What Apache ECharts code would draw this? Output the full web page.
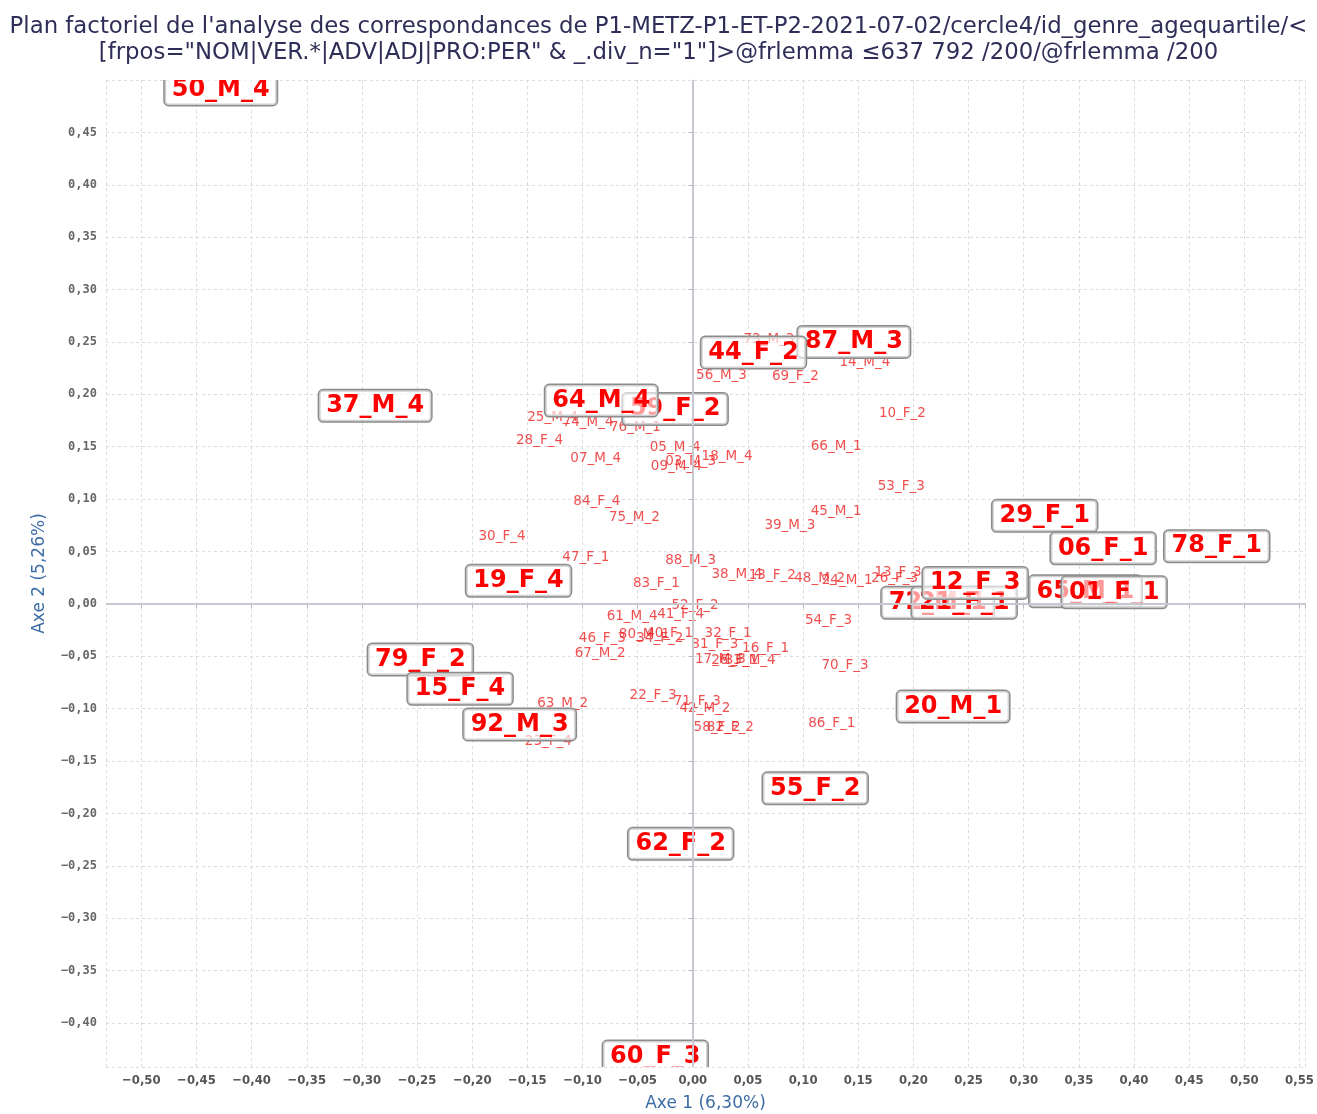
<!DOCTYPE html>
<html>
<head>
<meta charset="UTF-8">
<title>Plan factoriel</title>
<script src="https://cdn.jsdelivr.net/npm/echarts@6/dist/echarts.min.js"></script>
<style>
  html, body { margin: 0; padding: 0; background: #fff; }
  #main { width: 1317px; height: 1114px; }
</style>
</head>
<body>
<div id="main"></div>
<script type="text/javascript">
// titre (deux lignes)
var titre = [
  "Plan factoriel de l'analyse des correspondances de P1-METZ-P1-ET-P2-2021-07-02/cercle4/id_genre_agequartile/<",
  '[frpos="NOM|VER.*|ADV|ADJ|PRO:PER" & _.div_n="1"]>@frlemma \u2264637 792 /200/@frlemma /200'
];
var nomAxe1 = 'Axe 1 (6,30%)';
var nomAxe2 = 'Axe 2 (5,26%)';

// grandes étiquettes (encadrées) - l'ordre fixe qui passe devant
var grandsNoms = ['50_M_4','37_M_4','59_F_2','64_M_4','87_M_3','44_F_2','29_F_1','06_F_1','78_F_1',
  '72_M_1','21_F_1','12_F_3','65_M_1','01_F_1','19_F_4','79_F_2','15_F_4','92_M_3','20_M_1','55_F_2','62_F_2','60_F_3'];
var grandsX = [-0.428,-0.288,-0.016,-0.083,0.146,0.055,0.319,0.372,0.475,
  0.222,0.246,0.256,0.356,0.382,-0.158,-0.247,-0.211,-0.157,0.236,0.111,-0.011,-0.034];
var grandsY = [0.491,0.189,0.186,0.194,0.250,0.240,0.084,0.053,0.055,
  0.001,0.001,0.020,0.012,0.011,0.022,-0.053,-0.081,-0.115,-0.098,-0.176,-0.229,-0.432];

// petites étiquettes
var petitsNoms = ['73_M_3','14_M_4','56_M_3','69_F_2','10_F_2','25_M_4','74_M_4','76_M_1','28_F_4','07_M_4',
  '05_M_4','09_M_4','03_M_3','18_M_4','66_M_1','53_F_3','84_F_4','75_M_2','45_M_1','39_M_3',
  '30_F_4','47_F_1','88_M_3','83_F_1','38_M_4','13_F_2','48_M_2','24_M_1','26_F_3','13_F_3',
  '52_F_2','61_M_4','41_F_4','54_F_3','80_M_1','40_F_1','34_F_2','46_F_3','67_M_2','32_F_1',
  '81_F_3','16_F_1','17_M_3','26_F_1','33_M_4','70_F_3','86_F_1','63_M_2','22_F_3','71_F_3',
  '42_M_2','58_F_2','82_F_2','23_F_4'];
var petitsX = [0.069,0.156,0.026,0.093,0.190,-0.127,-0.095,-0.052,-0.139,-0.088,
  -0.016,-0.015,-0.002,0.031,0.130,0.189,-0.087,-0.053,0.130,0.088,
  -0.173,-0.097,-0.002,-0.033,0.040,0.072,0.115,0.140,0.183,0.186,
  0.002,-0.055,-0.011,0.123,-0.044,-0.021,-0.030,-0.082,-0.084,0.032,
  0.020,0.066,0.025,0.038,0.052,0.138,0.126,-0.118,-0.036,0.004,
  0.011,0.022,0.034,-0.131];
var petitsY = [0.252,0.230,0.218,0.217,0.182,0.178,0.173,0.168,0.156,0.139,
  0.149,0.131,0.136,0.141,0.150,0.112,0.098,0.082,0.088,0.075,
  0.064,0.044,0.041,0.019,0.028,0.027,0.024,0.022,0.024,0.030,
  -0.002,-0.012,-0.010,-0.016,-0.029,-0.028,-0.033,-0.033,-0.047,-0.028,
  -0.039,-0.043,-0.053,-0.054,-0.054,-0.059,-0.114,-0.095,-0.087,-0.093,
  -0.100,-0.118,-0.118,-0.131];

var xMin = -0.532, xMax = 0.555;
var yMin = -0.442, yMax = 0.50;

function zip(xs, ys, ns) {
  var out = [];
  for (var i = 0; i < ns.length; i++) out.push([xs[i], ys[i], ns[i]]);
  return out;
}

function fmt(v) {
  var r = Math.round(v * 100);
  if (Math.abs(v * 20 - Math.round(v * 20)) > 1e-6) return '';
  var s = Math.abs(r / 100).toFixed(2).replace('.', ',');
  return (r < 0 ? '\u2212' : '') + s;
}

// étiquette encadrée, coupée par la zone du graphe (clip)
function grandeEtiquette(params, api) {
  var pt = api.coord([api.value(0), api.value(1)]);
  return {
    type: 'text',
    x: pt[0], y: pt[1],
    style: {
      text: grandsNoms[params.dataIndex],
      align: 'center', verticalAlign: 'middle',
      font: 'bold 24px "DejaVu Sans"',
      fill: '#ff0000',
      backgroundColor: 'rgba(255,255,255,0.6)',
      borderColor: '#8c8c8c', borderWidth: 1.5, borderRadius: 4,
      padding: [5, 7, 2, 7]
    }
  };
}

var myChart = echarts.init(document.getElementById('main'));
var option = {
  backgroundColor: '#ffffff',
  animation: false,
  title: {
    text: titre.join('\n'),
    left: 'center',
    top: 9,
    textStyle: {
      fontFamily: 'DejaVu Sans',
      fontWeight: 'normal',
      fontSize: 22.8,
      lineHeight: 26,
      color: '#2e2e58'
    }
  },
  grid: { left: 106, right: 12, top: 80, bottom: 47, outerBoundsMode: 'none', containLabel: false },
  xAxis: {
    type: 'value',
    min: xMin, max: xMax,
    splitNumber: 20,
    name: nomAxe1,
    nameLocation: 'middle',
    nameGap: 28,
    nameTextStyle: { fontFamily: 'DejaVu Sans', fontSize: 17, color: '#3d6da6' },
    axisLine: { show: true, lineStyle: { color: '#c5cdd8' } },
    axisTick: { show: true, length: 4, lineStyle: { color: '#b0b8c4' } },
    axisLabel: {
      formatter: fmt, showMinLabel: false, showMaxLabel: true,
      fontFamily: 'DejaVu Sans Condensed', fontWeight: 'bold', fontSize: 13, color: '#555', margin: 7
    },
    splitLine: { show: true, lineStyle: { color: '#dcdcdc', type: [3, 3], width: 1 } }
  },
  yAxis: {
    type: 'value',
    min: yMin, max: yMax,
    splitNumber: 19,
    name: nomAxe2,
    nameLocation: 'middle',
    nameGap: 58,
    nameRotate: 90,
    nameTextStyle: { fontFamily: 'DejaVu Sans', fontSize: 17, color: '#3d6da6' },
    axisLine: { show: true, lineStyle: { color: '#c5cdd8' } },
    axisTick: { show: true, length: 4, lineStyle: { color: '#b0b8c4' } },
    axisLabel: {
      formatter: function (v) { return v > 0.47 ? '' : fmt(v); },
      showMinLabel: false, showMaxLabel: false,
      fontFamily: 'DejaVu Sans Mono', fontWeight: 'bold', fontSize: 12, color: '#666', margin: 9
    },
    splitLine: { show: true, lineStyle: { color: '#dcdcdc', type: [3, 3], width: 1 } }
  },
  series: [
    {
      name: 'petits',
      type: 'scatter',
      symbolSize: 1,
      itemStyle: { color: 'rgba(0,0,0,0)' },
      data: zip(petitsX, petitsY, petitsNoms),
      z: 3,
      label: {
        show: true, position: 'inside',
        formatter: function (p) { return p.value[2]; },
        fontFamily: 'DejaVu Sans', fontSize: 13.5, color: '#ee2222'
      },
      markLine: {
        silent: true, symbol: 'none', label: { show: false },
        lineStyle: { color: '#c6c8d0', type: 'solid', width: 2 },
        data: [{ xAxis: 0 }, { yAxis: 0 }]
      }
    },
    {
      name: 'grands',
      type: 'custom',
      coordinateSystem: 'cartesian2d',
      clip: true,
      z: 4,
      encode: { x: 0, y: 1 },
      data: zip(grandsX, grandsY, grandsNoms),
      renderItem: grandeEtiquette
    }
  ]
};
myChart.setOption(option);
</script>
</body>
</html>
